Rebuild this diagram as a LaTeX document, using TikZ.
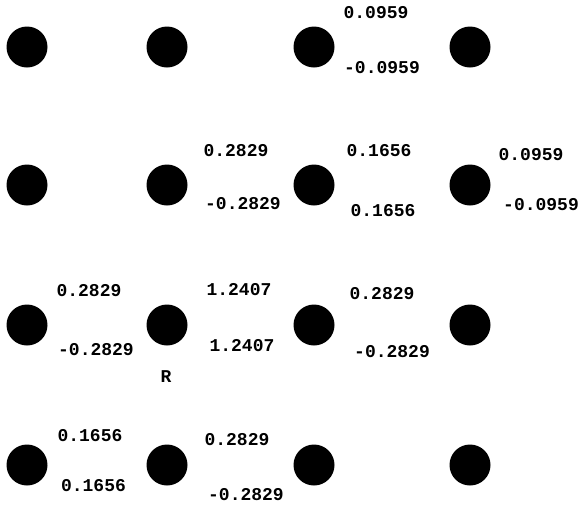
\documentclass[tikz,border=0pt]{standalone}
\usepackage{fontspec}
\setmonofont{Liberation Mono}
\usepackage{tikz}
\usetikzlibrary{positioning}

\begin{document}
\begin{tikzpicture}[x=1pt, y=-1pt,
    site/.style={circle, fill=black, inner sep=0pt, minimum size=41pt},
    wt/.style={inner sep=0pt, font=\ttfamily\bfseries\fontsize{18}{18}\selectfont}
]
\useasboundingbox (0,0) rectangle (580,504);

% row 1
\node[site] (s11) at (27,47) {};
\node[site] (s12) at (167,47) {};
\node[site] (s13) at (314,47) {};
\node[site] (s14) at (470,47) {};
% row 2
\node[site] (s21) at (27,185) {};
\node[site] (s22) at (167,185) {};
\node[site] (s23) at (314,185) {};
\node[site] (s24) at (470,185) {};
% row 3
\node[site] (s31) at (27,325) {};
\node[site] (s32) at (167,325) {};
\node[site] (s33) at (314,325) {};
\node[site] (s34) at (470,325) {};
% row 4
\node[site] (s41) at (27,465) {};
\node[site] (s42) at (167,465) {};
\node[site] (s43) at (314,465) {};
\node[site] (s44) at (470,465) {};

% values between sites
\node[wt] (w13a) at (376,12.5) {0.0959};
\node[wt] (w13b) at (382,68) {-0.0959};

\node[wt] (w22a) at (236,151) {0.2829};
\node[wt] (w22b) at (243,203.5) {-0.2829};
\node[wt] (w23a) at (379,151) {0.1656};
\node[wt] (w23b) at (383,210.5) {0.1656};
\node[wt] (w24a) at (531,154.5) {0.0959};
\node[wt] (w24b) at (541,204.5) {-0.0959};

\node[wt] (w31a) at (89,291) {0.2829};
\node[wt] (w31b) at (96,350) {-0.2829};
\node[wt] (w32a) at (239,290) {1.2407};
\node[wt] (w32b) at (242,345.5) {1.2407};
\node[wt] (w33a) at (382,293.5) {0.2829};
\node[wt] (w33b) at (392,351.5) {-0.2829};
\node[wt] (rlab) at (166,377) {R};

\node[wt] (w41a) at (90,436) {0.1656};
\node[wt] (w41b) at (93.5,486) {0.1656};
\node[wt] (w42a) at (237,439.5) {0.2829};
\node[wt] (w42b) at (246,495) {-0.2829};
\end{tikzpicture}
\end{document}
